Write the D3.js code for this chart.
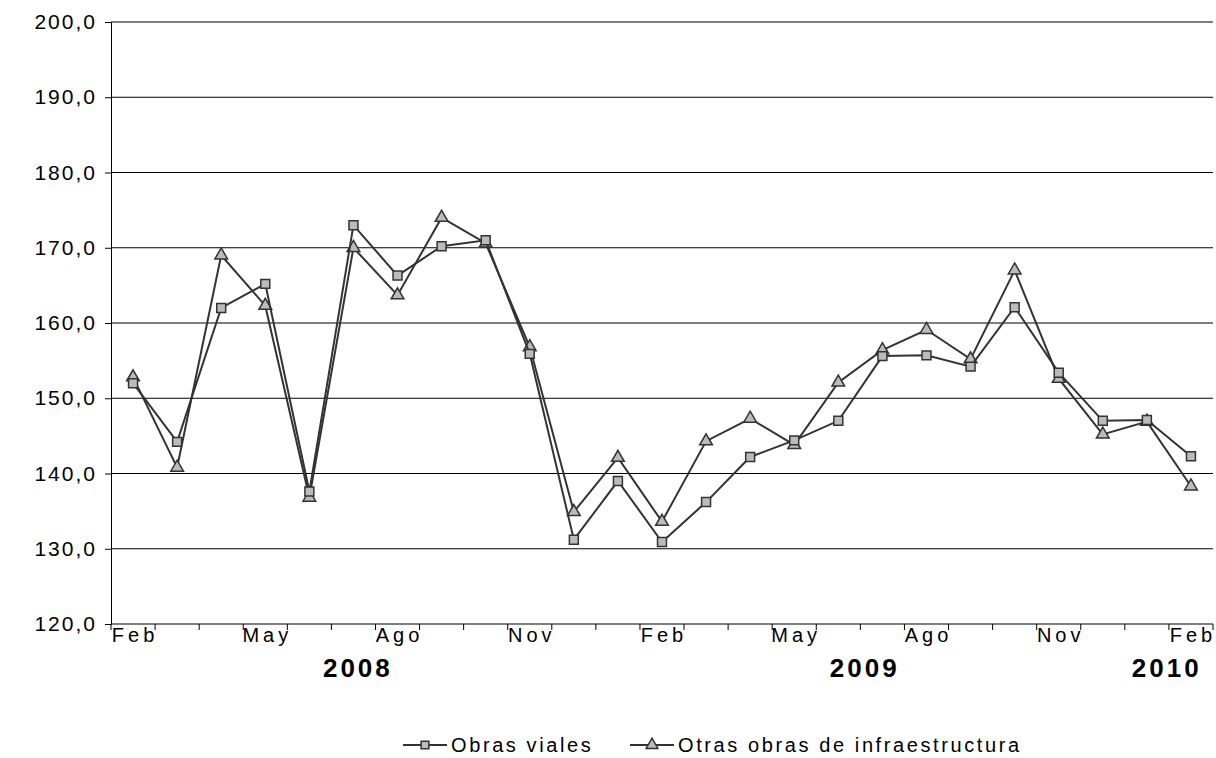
<!DOCTYPE html>
<html><head><meta charset="utf-8">
<script src="https://cdn.jsdelivr.net/npm/d3@7"></script>
<style>body{margin:0;background:#fff}text{font-family:Arial,"Liberation Sans",sans-serif}</style>
</head><body><svg id="c" width="1216" height="758"></svg>
<script>
var months = ["Feb","Mar","Abr","May","Jun","Jul","Ago","Sep","Oct","Nov","Dic","Ene",
  "Feb","Mar","Abr","May","Jun","Jul","Ago","Sep","Oct","Nov","Dic","Ene","Feb"];
var obrasViales = [152.0,144.2,162.0,165.2,137.6,173.0,166.3,170.2,171.0,155.9,131.2,139.0,
  130.9,136.2,142.2,144.4,147.0,155.6,155.7,154.2,162.1,153.4,147.0,147.1,142.3];
var otrasObras = [152.8,140.8,169.0,162.3,136.8,170.0,163.7,174.0,170.6,156.8,134.9,142.1,
  133.6,144.3,147.3,143.8,152.1,156.4,159.1,155.2,167.0,152.6,145.2,146.9,138.3];
var yTicks = [120,130,140,150,160,170,180,190,200];
var years = [{label:"2008", at:5.6},{label:"2009", at:17.1},{label:"2010", at:23.95}];

var svg = d3.select("#c");
var L = 111, R = 1213, T = 22, B = 624;
var idx = d3.range(months.length);
var x = d3.scaleBand().domain(idx).range([L, R]);
var cx = function(i){ return x(i) + x.bandwidth()/2; };
var y = d3.scaleLinear().domain([120,200]).range([B, T]);
var fmt = function(v){ return d3.format(".1f")(v).replace(".", ","); };

// gridlines
svg.append("g").selectAll("line").data(yTicks.slice(1)).join("line")
  .attr("x1", L).attr("x2", R).attr("y1", y).attr("y2", y)
  .attr("stroke", "#000").attr("stroke-width", 1);

// y axis
var ya = svg.append("g").attr("transform", "translate(" + L + ",0)")
  .call(d3.axisLeft(y).tickValues(yTicks).tickFormat(fmt).tickSize(6).tickPadding(8));
ya.selectAll("text").attr("font-size", 21).attr("fill", "#000").style("letter-spacing", "2px");
ya.selectAll("path,line").attr("stroke", "#000");

// x axis
var xa = svg.append("g").attr("transform", "translate(0," + B + ")");
xa.append("line").attr("x1", L).attr("x2", R).attr("stroke", "#000");
xa.selectAll(".tk").data(d3.range(months.length + 1)).join("line")
  .attr("x1", function(i){ return L + i * x.step(); })
  .attr("x2", function(i){ return L + i * x.step(); })
  .attr("y1", 0).attr("y2", 6).attr("stroke", "#000");
xa.selectAll(".lb").data(idx.filter(function(i){ return i % 3 === 0; })).join("text")
  .attr("x", function(i){ return cx(i) + 2; }).attr("y", 18).attr("text-anchor", "middle")
  .attr("font-size", 20).style("letter-spacing", "4px").text(function(i){ return months[i]; });
svg.selectAll(".yr").data(years).join("text")
  .attr("x", function(d){ return L + d.at * x.step(); }).attr("y", 677)
  .attr("text-anchor", "middle").attr("font-size", 26).attr("font-weight", "bold")
  .style("letter-spacing", "3px").text(function(d){ return d.label; });

var line = d3.line().x(function(d, i){ return cx(i); }).y(function(d){ return y(d); });
function drawSeries(data, shape) {
  svg.append("path").datum(data).attr("d", line).attr("fill", "none")
    .attr("stroke", "#333").attr("stroke-width", 2);
  var sym = d3.symbol().type(shape).size(shape === d3.symbolSquare ? 80 : 70);
  svg.append("g").selectAll("path").data(data).join("path")
    .attr("d", sym).attr("transform", function(d, i){ return "translate(" + cx(i) + "," + y(d) + ")"; })
    .attr("fill", "#bbb").attr("stroke", "#333").attr("stroke-width", 1.5);
}
drawSeries(otrasObras, d3.symbolTriangle);
drawSeries(obrasViales, d3.symbolSquare);

// legend
var leg = [{name:"Obras viales", shape:d3.symbolSquare, x:403},
           {name:"Otras obras de infraestructura", shape:d3.symbolTriangle, x:630}];
var lg = svg.selectAll(".lg").data(leg).join("g")
  .attr("transform", function(d){ return "translate(" + d.x + ",745)"; });
lg.append("line").attr("x1", 0).attr("x2", 44).attr("stroke", "#333").attr("stroke-width", 2);
lg.append("path").attr("transform", "translate(22,0)")
  .attr("d", function(d){ return d3.symbol().type(d.shape).size(60)(); })
  .attr("fill", "#bbb").attr("stroke", "#333").attr("stroke-width", 1.5);
lg.append("text").attr("x", 48).attr("y", 7).attr("font-size", 20)
  .style("letter-spacing", "2.6px").text(function(d){ return d.name; });
</script></body></html>
